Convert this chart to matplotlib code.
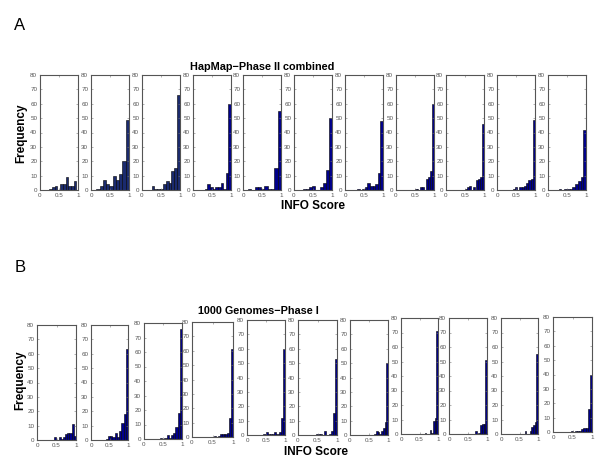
import numpy as np
import matplotlib
matplotlib.use("Agg")
import matplotlib.pyplot as plt

plt.rcParams['font.family'] = ['Liberation Sans', 'DejaVu Sans']

# INFO score histograms (10 bins from lo to hi), counts
hapmap_lo = [0.24, 0.14, 0.25, 0.31, 0.13, 0.24, 0.32, 0.49, 0.50, 0.41, 0.28]
hapmap_hi = [0.96, 1.0, 1.0, 1.0, 1.0, 1.0, 1.0, 1.0, 1.0, 1.0, 1.0]
hapmap_counts = [
    [1, 2, 3, 0, 4, 4, 9, 3, 3, 6],
    [1, 3, 7, 4, 3, 10, 7, 11, 20, 49],
    [3, 1, 1, 1, 4, 6, 5, 13, 15, 66],
    [1, 4, 2, 1, 2, 2, 5, 1, 12, 60],
    [1, 0, 2, 2, 1, 3, 1, 1, 15, 55],
    [1, 1, 2, 3, 0, 0, 2, 5, 14, 50],
    [1, 0, 1, 2, 5, 3, 3, 4, 12, 48],
    [1, 1, 0, 2, 2, 0, 8, 9, 13, 60],
    [1, 2, 3, 0, 2, 0, 7, 8, 9, 46],
    [1, 2, 0, 2, 2, 3, 5, 7, 8, 49],
    [1, 0, 1, 1, 1, 2, 4, 6, 9, 42],
]

kg_lo = [0.44, 0.40, 0.42, 0.54, 0.43, 0.46, 0.55, 0.55, 0.55, 0.55, 0.45]
kg_hi = [1.0] * 11
kg_counts = [
    [2, 0, 2, 1, 2, 4, 5, 5, 11, 3],
    [1, 3, 3, 2, 5, 2, 6, 12, 18, 63],
    [1, 0, 1, 3, 1, 3, 4, 8, 18, 76],
    [1, 0, 1, 2, 2, 2, 2, 3, 13, 61],
    [1, 2, 1, 1, 1, 2, 1, 2, 12, 60],
    [1, 1, 1, 0, 3, 0, 1, 3, 15, 53],
    [0, 0, 1, 3, 2, 1, 3, 5, 9, 50],
    [0, 0, 1, 0, 0, 3, 1, 9, 11, 71],
    [0, 0, 0, 2, 0, 1, 6, 7, 7, 51],
    [0, 0, 2, 0, 0, 2, 5, 6, 8, 55],
    [1, 0, 1, 1, 1, 2, 3, 3, 16, 40],
]

xticks = [0, 0.5, 1]
xticklabels = ['0', '0.5', '1']
yticks = [0, 10, 20, 30, 40, 50, 60, 70, 80]

W, H = 600, 468
fig = plt.figure(figsize=(6, 4.68), dpi=100)

# panel boxes in pixels: left, right, top, bottom
top_left = [40, 91, 142, 193, 243, 294, 345, 396, 446, 497, 548]
top_box = [(l, l + 38, 75, 190) for l in top_left]
bot_left = [37, 91, 144, 192, 247, 298, 350, 401, 449, 501, 553]
bot_right = [76, 128, 182, 233, 285, 337, 388, 438, 487, 538, 592]
bot_top = [325, 325, 323, 322, 320, 320, 320, 318, 318, 318, 317]
bot_bottom = [440, 440, 439, 437, 435, 435, 435, 434, 434, 434, 432]
bot_box = list(zip(bot_left, bot_right, bot_top, bot_bottom))


def panel(box, lo, hi, counts, color):
    l, r, t, b = box
    ax = fig.add_axes([l / W, 1 - b / H, (r - l) / W, (b - t) / H])
    edges = np.linspace(lo, hi, len(counts) + 1)
    ax.bar(edges[:-1], counts, width=np.diff(edges), align='edge',
           color=color, edgecolor='black', linewidth=0.4)
    ax.set_xlim(0, 1)
    ax.set_ylim(0, 80)
    ax.set_xticks(xticks)
    ax.set_xticklabels(xticklabels)
    ax.set_yticks(yticks)
    ax.tick_params(direction='in', length=1.5, width=0.4, labelsize=4.5,
                   labelcolor='#555555', pad=2, top=True, right=True,
                   colors='#777777')
    for s in ax.spines.values():
        s.set_color('#555555')
        s.set_linewidth(0.8)
    return ax


for i in range(11):
    c = '#1a2a6e' if i < 3 else '#00008b'
    panel(top_box[i], hapmap_lo[i], hapmap_hi[i], hapmap_counts[i], c)
    panel(bot_box[i], kg_lo[i], kg_hi[i], kg_counts[i], '#00008b')


def txt(x, y, s, **kw):
    fig.text(x / W, 1 - y / H, s, ha='center', va='center', **kw)


txt(20, 25, 'A', fontsize=12)
txt(20, 268, 'B', fontsize=12)
txt(262, 67, 'HapMap\u2212Phase II combined', fontsize=7.8, fontweight='bold')
txt(258, 311, '1000 Genomes\u2212Phase I', fontsize=7.8, fontweight='bold')
txt(313, 206, 'INFO Score', fontsize=8.5, fontweight='bold')
txt(316, 452, 'INFO Score', fontsize=8.5, fontweight='bold')
txt(21, 133, 'Frequency', fontsize=8.5, fontweight='bold', rotation=90)
txt(20, 380, 'Frequency', fontsize=8.5, fontweight='bold', rotation=90)

fig.savefig('out.png', dpi=100)
